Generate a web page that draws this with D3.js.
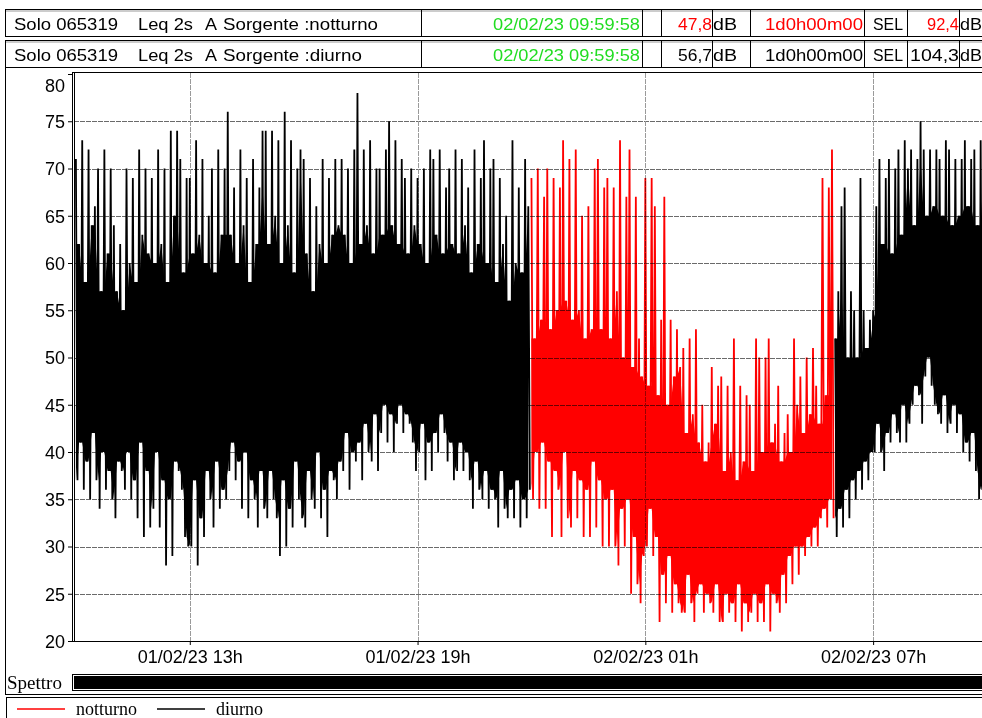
<!DOCTYPE html>
<html>
<head>
<meta charset="utf-8">
<script src="https://cdn.jsdelivr.net/npm/d3@7"></script>
<style>
    body { margin: 0; background: #fff; }
    svg { display: block; }
    text { font-family: "Liberation Sans", Arial, sans-serif; }
    .serif { font-family: "Liberation Serif", "Times New Roman", serif; }
</style>
</head>
<body>
<svg id="chart" width="982" height="718"></svg>
<script>
// one hi/lo pair every 5 minutes, from 01/02/23 10:00 to 02/02/23 09:55
const startTime = new Date(2023, 1, 1, 10, 0, 0);
const stepMinutes = 5;
const nightStart = new Date(2023, 1, 1, 22, 0, 0);
const nightEnd = new Date(2023, 1, 2, 6, 0, 0);

const levelHi = [
    71,62,73,58,72,64,66,70,57,72,61,70,
    64,57,62,55,70,60,69,58,72,63,70,61,
    69,60,72,62,70,58,74,65,74,71,59,69,
    69,61,73,63,71,60,65,70,59,72,63,70,
    76,63,68,60,72,64,69,58,71,62,68,74,
    74,62,74,65,73,60,76,64,73,59,70,72,
    71,61,69,57,66,62,71,60,69,63,71,64,
    71,63,70,60,72,78,62,72,64,73,61,70,
    70,63,72,75,64,73,62,71,69,61,70,64,
    69,62,70,60,72,71,63,72,61,68,70,62,
    72,61,71,64,68,59,72,62,69,73,60,70,
    71,58,69,62,65,56,73,60,68,59,71,66,
    69,52,70,54,67,70,53,69,55,68,73,56,
    71,54,72,55,65,52,66,53,70,71,53,68,
    69,52,68,57,73,50,67,72,49,67,52,48,
    69,47,69,66,46,54,67,45,54,48,53,49,
    51,42,52,44,53,41,45,39,41,49,43,47,
    48,38,47,40,52,37,47,39,46,45,38,52,
    50,40,50,52,41,43,47,39,42,44,40,52,
    45,48,42,50,44,51,47,43,69,46,68,72,
    52,57,66,68,50,57,55,50,69,55,51,54,
    55,66,71,62,69,71,61,70,72,63,73,70,
    72,64,71,75,72,65,72,66,72,71,65,73,
    72,64,71,65,71,73,66,71,72,64,73,70
];

const levelLo = [
    37,41,36,39,35,42,37,34,40,36,38,35,
    33,39,38,36,40,35,37,33,41,31,38,32,
    34,40,32,37,28,35,29,39,38,36,31,30,
    30,37,28,33,31,38,35,32,39,34,36,35,
    38,41,37,39,34,40,33,37,35,32,38,34,
    33,38,35,33,29,37,30,34,32,39,35,33,
    32,38,35,34,40,33,36,31,38,37,35,39,
    38,42,36,40,39,41,37,43,40,39,44,38,
    42,45,41,44,40,43,45,42,44,43,41,38,
    40,43,37,41,38,42,40,44,42,39,41,37,
    38,41,38,40,37,34,39,36,35,38,34,36,
    35,32,38,34,33,36,33,37,32,35,33,36,
    35,40,34,41,34,39,31,38,36,31,40,33,
    32,38,33,37,31,36,31,39,32,37,30,35,
    30,36,30,28,34,30,35,25,31,26,24,29,
    30,34,29,31,22,27,24,29,23,26,24,23,
    23,27,24,22,25,26,23,25,24,23,26,22,
    22,25,23,24,22,26,21,24,22,23,25,22,
    24,22,26,21,25,24,23,27,24,29,26,30,
    27,30,29,31,30,32,30,33,34,32,35,33,
    31,34,32,36,33,37,35,38,36,39,37,40,
    40,43,40,38,42,41,44,42,41,45,41,43,
    45,47,46,43,48,50,47,45,44,43,46,42,
    43,45,42,44,40,41,39,42,38,35,36,37
];

const yTicks = [20, 25, 30, 35, 40, 45, 50, 55, 60, 65, 70, 75, 80];
const xTicks = [
    new Date(2023, 1, 1, 13), new Date(2023, 1, 1, 19),
    new Date(2023, 1, 2, 1), new Date(2023, 1, 2, 7)
];
const xTickLabels = ["01/02/23 13h", "01/02/23 19h", "02/02/23 01h", "02/02/23 07h"];

const periodNames = ["notturno", "diurno"];
const periodColors = ["#ff0000", "#000000"];
const endStamp = "02/02/23 09:59:58";
const leqValues = ["47,8", "56,7"];
const durations = ["1d0h00m00", "1d0h00m00"];
const selValues = ["92,4", "104,3"];

const svg = d3.select("#chart");

// ---- header rows ----
const rowTop = [9, 40];
const rowH = 27;
const cellEdges = [421, 642, 661, 712, 750, 864, 907, 959];

periodNames.forEach((name, i) => {
    const top = rowTop[i];
    const g = svg.append("g");
    const valColor = i === 0 ? "#ff0000" : "#000";
    const base = top + 20.5;

    g.append("rect").attr("x", 5.5).attr("y", top + 0.5)
        .attr("width", 1000).attr("height", rowH)
        .attr("fill", "#fff").attr("stroke", "#000");
    g.append("line").attr("x1", 6).attr("x2", 990).attr("y1", top + 2).attr("y2", top + 2)
        .attr("stroke", "#999");
    cellEdges.forEach(cx => {
        g.append("line").attr("x1", cx + 0.5).attr("x2", cx + 0.5)
            .attr("y1", top).attr("y2", top + rowH)
            .attr("stroke", "#000");
    });

    const txt = (x, str, len, anchor, color) => {
        const t = g.append("text").attr("x", x).attr("y", base)
            .attr("font-size", 17).attr("fill", color || "#000")
            .attr("text-anchor", anchor || "start").text(str);
        if (len) t.attr("textLength", len).attr("lengthAdjust", "spacingAndGlyphs");
        return t;
    };

    txt(14, "Solo 065319", 104);
    txt(138, "Leq 2s", 55);
    txt(205, "A", 12);
    txt(223, "Sorgente :" + name, i === 0 ? 155 : 139);
    txt(640, endStamp, 147, "end", "#22dd22");
    txt(712, leqValues[i], 34, "end", valColor);
    txt(713, "dB", 24);
    txt(863, durations[i], 98, "end", valColor);
    txt(873, "SEL", 30);
    txt(959, selValues[i], i === 0 ? 32 : 49, "end", valColor);
    txt(960, "dB", 22);
});

// ---- chart panel ----
const plot = { left: 74, top: 73, right: 987, bottom: 641 };

svg.append("rect").attr("x", 5.5).attr("y", 67.5).attr("width", 1000).attr("height", 627)
    .attr("fill", "none").attr("stroke", "#000");

const x = d3.scaleTime()
    .domain([new Date(2023, 1, 1, 9, 57), new Date(2023, 1, 2, 10, 0)])
    .range([plot.left, plot.right]);

const y = d3.scaleLinear().domain([20, 80]).range([plot.bottom, 74]);

svg.append("defs").append("clipPath").attr("id", "plot-clip")
    .append("rect").attr("x", plot.left).attr("y", plot.top)
    .attr("width", 982 - plot.left).attr("height", plot.bottom - plot.top);

// zig-zag trace: hi at the start of each step, lo half a step later
const points = [];
levelHi.forEach((hi, i) => {
    const t = d3.timeMinute.offset(startTime, i * stepMinutes);
    points.push({ t: t, v: hi });
    points.push({ t: d3.timeSecond.offset(t, stepMinutes * 30), v: levelLo[i] });
});

// dense core of the trace: between neighbouring lows and neighbouring highs
const n = levelHi.length;
const core = levelHi.map((hi, i) => ({
    t: d3.timeMinute.offset(startTime, i * stepMinutes),
    top: Math.min(levelHi[Math.max(i - 1, 0)], hi, levelHi[Math.min(i + 1, n - 1)]),
    bot: Math.max(levelLo[Math.max(i - 1, 0)], levelLo[i])
}));

const isNight = d => d.t >= nightStart && d.t < nightEnd;
const isDay = d => !isNight(d);

const dataG = svg.append("g").attr("clip-path", "url(#plot-clip)");

const coreArea = defined => d3.area().defined(defined)
    .x(d => x(d.t)).y0(d => y(d.bot)).y1(d => y(d.top));
const traceLine = defined => d3.line().defined(defined)
    .x(d => x(d.t)).y(d => y(d.v));

[isDay, isNight].forEach((fn, k) => {
    const color = periodColors[1 - k];
    dataG.append("path").datum(core)
        .attr("fill", color)
        .attr("d", coreArea(fn));
    dataG.append("path").datum(points)
        .attr("fill", "none")
        .attr("stroke", color)
        .attr("stroke-width", 1.8)
        .attr("stroke-linejoin", "bevel")
        .attr("d", traceLine(fn));
});

// grid over the data, multiplied so it vanishes on black
const gridG = svg.append("g").attr("clip-path", "url(#plot-clip)")
    .style("mix-blend-mode", "multiply");

gridG.selectAll(".hgrid")
    .data(yTicks.filter(v => v > 20 && v < 80))
    .enter().append("line")
    .attr("x1", plot.left).attr("x2", 982)
    .attr("y1", d => Math.round(y(d)) + 0.5).attr("y2", d => Math.round(y(d)) + 0.5)
    .attr("stroke", "#6a6a6a").attr("stroke-dasharray", "5,1");

gridG.selectAll(".vgrid")
    .data(xTicks)
    .enter().append("line")
    .attr("x1", d => Math.round(x(d)) + 0.5).attr("x2", d => Math.round(x(d)) + 0.5)
    .attr("y1", plot.top).attr("y2", plot.bottom)
    .attr("stroke", "#9a9a9a").attr("stroke-dasharray", "5,1");

// plot frame
svg.append("line").attr("x1", 72.5).attr("x2", 72.5).attr("y1", 72).attr("y2", 642).attr("stroke", "#000");
svg.append("line").attr("x1", 74.5).attr("x2", 74.5).attr("y1", 73).attr("y2", 641).attr("stroke", "#000");
svg.append("line").attr("x1", 72).attr("x2", 982).attr("y1", 72.5).attr("y2", 72.5).attr("stroke", "#000");
svg.append("line").attr("x1", 72).attr("x2", 982).attr("y1", 641.5).attr("y2", 641.5).attr("stroke", "#000");

// y axis
const yAxis = d3.axisLeft(y).tickValues(yTicks).tickSize(4).tickPadding(3);
const yAxisG = svg.append("g").attr("transform", "translate(72,0)").call(yAxis);
yAxisG.select(".domain").remove();
yAxisG.selectAll("text").attr("font-size", 18).attr("fill", "#000")
    .attr("font-family", "Liberation Sans, Arial, sans-serif")
    .attr("dy", d => d === 80 ? "0.95em" : "0.36em");
yAxisG.selectAll(".tick line").attr("stroke", "#000");

// x axis
const xAxis = d3.axisBottom(x).tickValues(xTicks)
    .tickFormat((d, i) => xTickLabels[i]).tickSize(4).tickPadding(5);
const xAxisG = svg.append("g").attr("transform", "translate(0,641)").call(xAxis);
xAxisG.select(".domain").remove();
xAxisG.selectAll("text").attr("font-size", 18).attr("fill", "#000")
    .attr("font-family", "Liberation Sans, Arial, sans-serif");
xAxisG.selectAll(".tick line").attr("stroke", "#000");

// spectrum strip
svg.append("text").attr("class", "serif").attr("x", 7).attr("y", 689)
    .attr("font-size", 19).text("Spettro");
svg.append("rect").attr("x", 72.5).attr("y", 674.5).attr("width", 920).attr("height", 16)
    .attr("fill", "#fff").attr("stroke", "#000");
svg.append("rect").attr("x", 74).attr("y", 676).attr("width", 920).attr("height", 13)
    .attr("fill", "#000");

// legend
svg.append("rect").attr("x", 6.5).attr("y", 697.5).attr("width", 1000).attr("height", 30)
    .attr("fill", "#fff").attr("stroke", "#000");
const legendX = [17, 157];
periodNames.forEach((name, i) => {
    svg.append("line").attr("x1", legendX[i]).attr("x2", legendX[i] + 48)
        .attr("y1", 709).attr("y2", 709)
        .attr("stroke", periodColors[i]).attr("stroke-width", 1.5);
    svg.append("text").attr("class", "serif").attr("x", legendX[i] + 59).attr("y", 715)
        .attr("font-size", 18).text(name);
});
</script>
</body>
</html>
